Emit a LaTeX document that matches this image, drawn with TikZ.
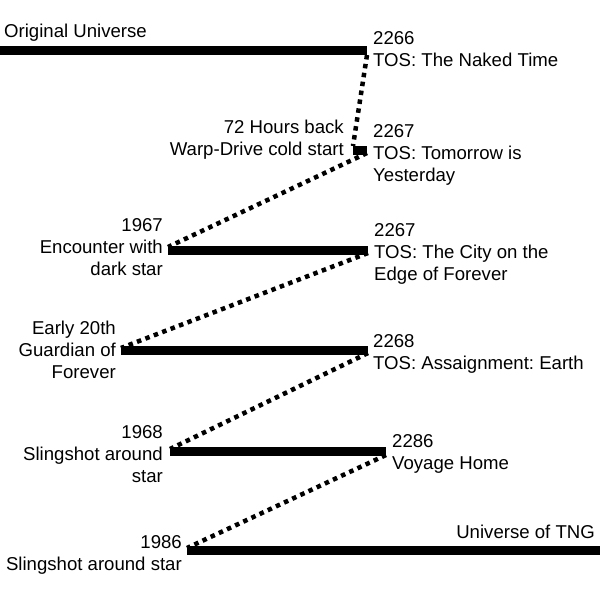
\documentclass[tikz,border=0pt]{standalone}
\usepackage{fontspec}
\setmainfont{Liberation Sans}
\usepackage{tikz}
\frenchspacing

\begin{document}
\begin{tikzpicture}[x=1pt,y=-1pt,
  timeline/.style={line width=9pt},
  jump/.style={line width=4.5pt,dash pattern=on 4.5pt off 4.5pt},
  txt/.style={inner sep=0pt,font=\fontsize{18.6}{22}\selectfont},
  rlab/.style={txt,anchor=base west,align=left},
  llab/.style={txt,anchor=base east,align=right}]
\useasboundingbox (0,0) rectangle (600,600);
% ---- TIMELINE ENDS ----
\coordinate (orig-s) at (0,50);    \coordinate (orig-e) at (367,50);
\coordinate (warp-s) at (353,150); \coordinate (warp-e) at (367,150);
\coordinate (dark-s) at (168,250); \coordinate (dark-e) at (368,250);
\coordinate (guard-s) at (121,350); \coordinate (guard-e) at (368,350);
\coordinate (sling-s) at (170,451); \coordinate (sling-e) at (386,451);
\coordinate (tng-s) at (187,550);  \coordinate (tng-e) at (600,550);
% ---- TIMELINES ----
\foreach \t in {orig,warp,dark,guard,sling,tng}{ \draw[timeline] (\t-s) -- (\t-e);}
% ---- TIME JUMPS ----
\draw[jump] ([yshift=-5pt]orig-e) -- ([yshift=4pt]warp-s);
\draw[jump] ([yshift=-3pt]warp-e) -- ([yshift=3pt]dark-s);
\draw[jump] ([yshift=-3pt]dark-e) -- ([yshift=2pt]guard-s);
\draw[jump] ([yshift=-3pt]guard-e) -- ([yshift=2pt]sling-s);
\draw[jump] ([yshift=-4pt]sling-e) -- ([yshift=2pt]tng-s);
% ---- LABELS (base = last line) ----
\node[rlab] (l-orig) at (4,37) {Original Universe};
\node[rlab] (l-naked) at (373,66) {2266\\TOS: The Naked Time};
\node[llab] (l-warp) at (344,155) {72 Hours back\\Warp-Drive cold start};
\node[rlab] (l-tomorrow) at (373,181) {2267\\TOS: Tomorrow is\\Yesterday};
\node[llab] (l-dark) at (163,275) {1967\\Encounter with\\dark star};
\node[rlab] (l-city) at (374,280) {2267\\TOS: The City on the\\Edge of Forever};
\node[llab] (l-guard) at (116,378) {Early 20th\\Guardian of\\Forever};
\node[rlab] (l-earth) at (373,369) {2268\\TOS: Assaignment: Earth};
\node[llab] (l-sling) at (163,482) {1968\\Slingshot around\\star};
\node[rlab] (l-home) at (392,469) {2286\\Voyage Home};
\node[llab] (l-tngstar) at (182,570) {1986\\Slingshot around star};
\node[llab] (l-tng) at (595,538) {Universe of TNG};
\end{tikzpicture}
\end{document}
